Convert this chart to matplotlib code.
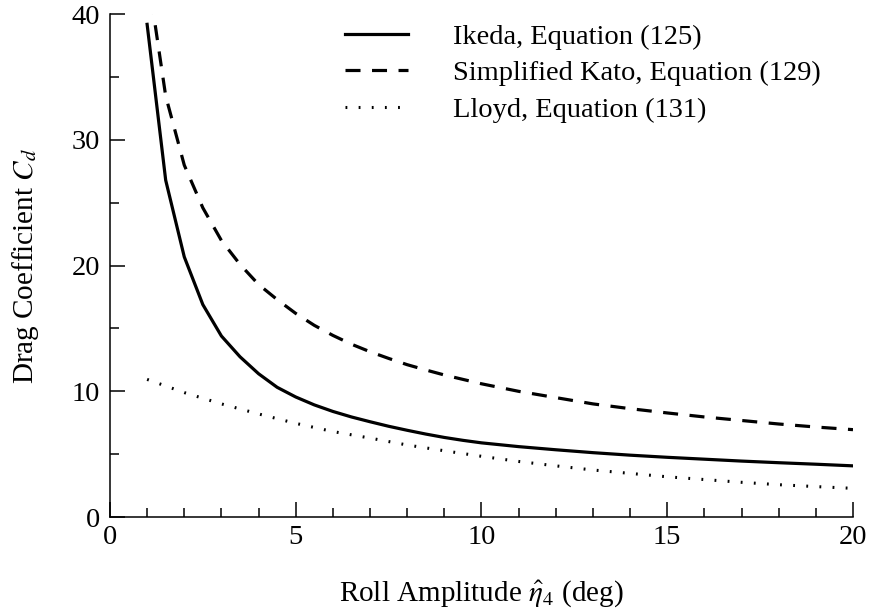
import matplotlib
matplotlib.use("Agg")
import matplotlib.pyplot as plt
from matplotlib.ticker import MultipleLocator

plt.rcParams['font.family'] = ['Liberation Serif', 'DejaVu Serif']
plt.rcParams['mathtext.fontset'] = 'stix'

# Data
x_ikeda = [1, 1.5, 2, 2.5, 3, 3.5, 4, 4.5, 5, 5.5, 6, 6.5, 7, 7.5, 8, 8.5, 9, 9.5, 10,
           11, 12, 13, 14, 15, 16, 17, 18, 19, 20]
cd_ikeda = [39.2, 26.8, 20.7, 16.9, 14.4, 12.75, 11.4, 10.32, 9.55, 8.92, 8.4, 7.96, 7.58, 7.22,
            6.9, 6.6, 6.33, 6.1, 5.9, 5.6, 5.35, 5.12, 4.92, 4.75, 4.6, 4.45, 4.32, 4.2, 4.07]

x_kato = [1, 1.5, 2, 2.5, 3, 3.5, 4, 4.5, 5, 5.5, 6, 6.5, 7, 7.5, 8, 8.5, 9, 9.5, 10,
          11, 12, 13, 14, 15, 16, 17, 18, 19, 20]
cd_kato = [43.5, 33.5, 28.0, 24.6, 22.0, 20.1, 18.5, 17.3, 16.2, 15.25, 14.45, 13.75, 13.15,
           12.62, 12.12, 11.7, 11.3, 10.95, 10.6, 10.0, 9.5, 9.0, 8.62, 8.28, 7.96, 7.68,
           7.4, 7.16, 6.95]

x_lloyd = [1, 2, 3, 4, 5, 6, 7, 8, 9, 10, 11, 12, 13, 14, 15, 16, 17, 18, 19, 20]
cd_lloyd = [10.95, 9.9, 9.0, 8.2, 7.45, 6.8, 6.28, 5.73, 5.27, 4.83, 4.42, 4.07, 3.74, 3.47,
            3.2, 2.98, 2.76, 2.57, 2.42, 2.28]

labels = ['Ikeda, Equation (125)', 'Simplified Kato, Equation (129)', 'Lloyd, Equation (131)']

FS = 20.5
fig = plt.figure(figsize=(8.72, 6.13), dpi=100)
ax = fig.add_axes([0.1261, 0.1566, 0.8521, 0.8201])

ax.plot(x_ikeda, cd_ikeda, color='black', lw=2.3, label=labels[0])
ax.plot(x_kato, cd_kato, color='black', lw=2.3, linestyle=(0, (4.7, 3.6)), label=labels[1])
ax.plot(x_lloyd, cd_lloyd, color='black', lw=2.2, linestyle=(0, (0.6, 3.7)), label=labels[2])

ax.set_xlim(0, 20)
ax.set_ylim(0, 40)
ax.xaxis.set_major_locator(MultipleLocator(5))
ax.xaxis.set_minor_locator(MultipleLocator(1))
ax.yaxis.set_major_locator(MultipleLocator(10))
ax.yaxis.set_minor_locator(MultipleLocator(5))

for s in ['top', 'right']:
    ax.spines[s].set_visible(False)
for s in ['left', 'bottom']:
    ax.spines[s].set_linewidth(1.1)

ax.tick_params(which='major', direction='in', length=10.5, width=1.1, labelsize=FS)
ax.tick_params(which='minor', direction='in', length=6.3, width=1.1)
ax.tick_params(axis='x', which='major', pad=6)
ax.tick_params(axis='y', which='major', pad=7)

ax.set_xlabel(r'Roll Amplitude $\hat{\eta}_4$ (deg)', fontsize=21, labelpad=20)
ax.set_ylabel(r'Drag Coefficient $C_d$', fontsize=21, labelpad=22)

leg = ax.legend(loc='upper left', bbox_to_anchor=(0.3956, 0.961), bbox_transform=fig.transFigure,
                frameon=False, fontsize=FS, handlelength=2.2, handletextpad=1.6,
                labelspacing=0.37, borderpad=0, borderaxespad=0)

fig.savefig('out.png', dpi=100)
